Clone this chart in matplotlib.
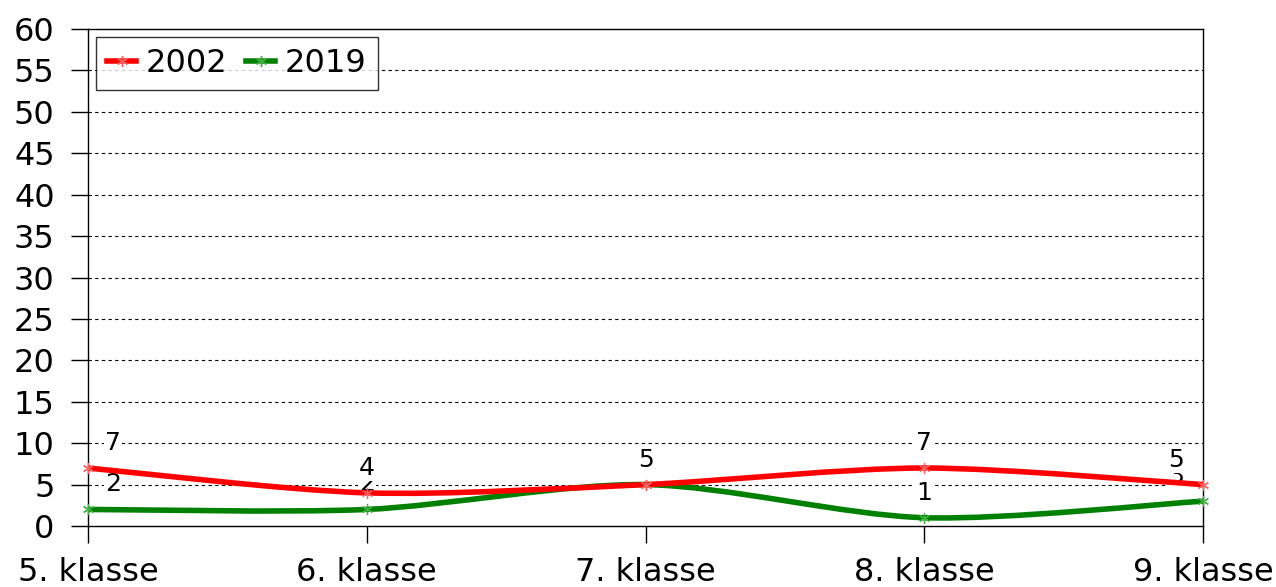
import matplotlib
matplotlib.use("Agg")
import matplotlib.pyplot as plt
from matplotlib.path import Path
from matplotlib.patches import PathPatch
from matplotlib.lines import Line2D
import numpy as np

categories = ["5. klasse", "6. klasse", "7. klasse", "8. klasse", "9. klasse"]
series_2002 = [7, 4, 5, 7, 5]
series_2019 = [2, 2, 5, 1, 3]
yticks = list(range(0, 61, 5))

plt.rcParams['font.family'] = ['DejaVu Sans']

fig = plt.figure(figsize=(12.76, 5.87), dpi=100)
ax = fig.add_axes([88/1276, 1-526/587, (1203-88)/1276, (526-29)/587])

def smooth_path(xs, ys, k=7.0):
    pts = np.column_stack([xs, ys]).astype(float)
    n = len(pts)
    verts = [pts[0]]
    codes = [Path.MOVETO]
    for i in range(n-1):
        p0 = pts[i-1] if i > 0 else pts[i]
        p1 = pts[i]
        p2 = pts[i+1]
        p3 = pts[i+2] if i+2 < n else pts[i+1]
        c1 = p1 + (p2 - p0) / k
        c2 = p2 - (p3 - p1) / k
        verts += [c1, c2, p2]
        codes += [Path.CURVE4]*3
    return Path(verts, codes)

x = np.arange(len(categories))
lw = 4.0
for vals, col, mcol in [(series_2019, '#008000', '#40b040'), (series_2002, '#ff0000', '#ff6060')]:
    p = PathPatch(smooth_path(x, vals), facecolor='none', edgecolor=col, lw=lw,
                  zorder=3, capstyle='butt', joinstyle='round', clip_on=False)
    ax.add_patch(p)
    ax.plot(x, vals, linestyle='none', marker=(6, 2, 0), markersize=8,
            markeredgecolor=mcol, markeredgewidth=0.9, zorder=4, clip_on=False)

def offs(i):
    if i == 0:
        return 25
    if i == len(categories)-1:
        return -27
    return 0

for vals, z in [(series_2019, 2.5), (series_2002, 2.6)]:
    for i, v in enumerate(vals):
        ax.annotate(str(v), (x[i], v), xytext=(offs(i), 25), textcoords='offset pixels',
                    ha='center', va='center', fontsize=18, color='black', zorder=z,
                    bbox=dict(boxstyle='square,pad=0.05', fc='white', ec='none'))

ax.set_xlim(0, 4)
ax.set_ylim(0, 60)
ax.set_yticks(yticks)
ax.set_xticks(x)
ax.set_xticklabels(categories)
ax.tick_params(axis='both', direction='out', length=12, width=1, labelsize=23, colors='black')
ax.tick_params(axis='y', pad=12)
ax.tick_params(axis='x', pad=10)

for yv in yticks[1:-1]:
    ax.axhline(yv, color='black', lw=0.8, ls=(0, (3, 3)), zorder=1)

for s in ax.spines.values():
    s.set_color('black')
    s.set_linewidth(1)

handles = [Line2D([0], [0], color='#ff0000', lw=lw, marker=(6, 2, 0), markersize=8,
                  markeredgecolor='#ff6060'),
           Line2D([0], [0], color='#008000', lw=lw, marker=(6, 2, 0), markersize=8,
                  markeredgecolor='#40b040')]
leg = ax.legend(handles, ['2002', '2019'], loc='upper left', ncol=2, fontsize=23,
                frameon=True, fancybox=False, handlelength=0.9, handletextpad=0.3,
                columnspacing=0.6, borderpad=0.35, borderaxespad=0.25,
                bbox_to_anchor=(0.0, 1.0))
leg.get_frame().set_edgecolor('black')
leg.get_frame().set_linewidth(1)
leg.set_zorder(5)

fig.savefig('out.png', dpi=100, facecolor='white')
